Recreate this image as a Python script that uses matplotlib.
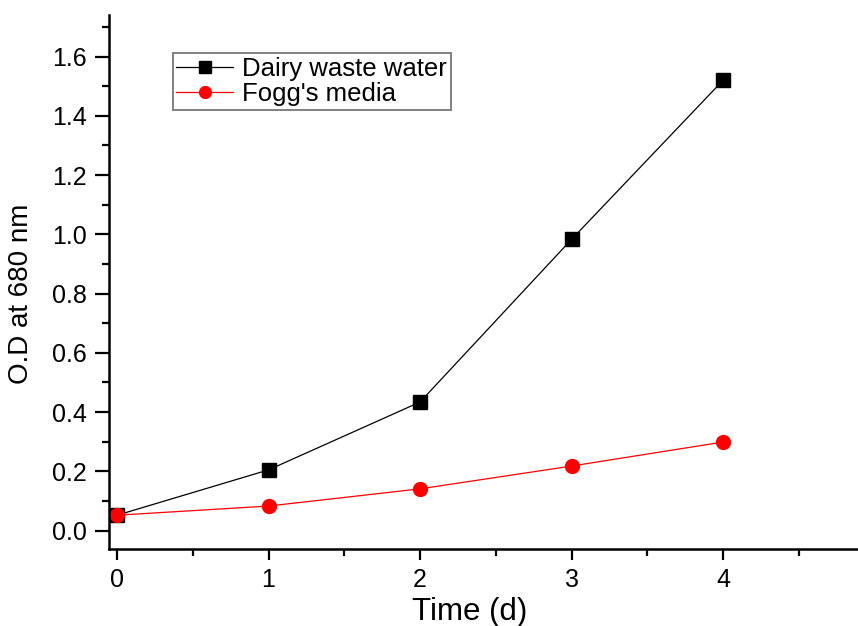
import matplotlib
matplotlib.use("Agg")
import matplotlib.pyplot as plt

plt.rcParams['font.family'] = ['Liberation Sans', 'DejaVu Sans']

days = [0, 1, 2, 3, 4]
dairy = [0.052, 0.205, 0.434, 0.983, 1.52]
fogg = [0.052, 0.083, 0.141, 0.218, 0.299]
labels = ["Dairy waste water", "Fogg's media"]


def graph_line():
    fig = plt.figure(figsize=(8.58, 6.26), dpi=100)
    ax = fig.add_axes([0.127, 0.123, 0.873, 0.853])

    ax.plot(days, dairy, color='black', lw=0.9, marker='s', markersize=9.5, label=labels[0])
    ax.plot(days, fogg, color='red', lw=0.9, marker='o', markersize=10, label=labels[1])

    ax.set_xlim(-0.053, 4.89)
    ax.set_ylim(-0.062, 1.74)
    ax.set_xticks([0, 1, 2, 3, 4])
    ax.set_xticks([0.5, 1.5, 2.5, 3.5, 4.5], minor=True)
    ax.set_yticks([0.0, 0.2, 0.4, 0.6, 0.8, 1.0, 1.2, 1.4, 1.6])
    ax.set_yticks([0.1, 0.3, 0.5, 0.7, 0.9, 1.1, 1.3, 1.5, 1.7], minor=True)
    ax.yaxis.set_major_formatter(matplotlib.ticker.FormatStrFormatter('%.1f'))

    for s in ['top', 'right']:
        ax.spines[s].set_visible(False)
    for s in ['left', 'bottom']:
        ax.spines[s].set_linewidth(1.8)

    ax.tick_params(which='major', direction='out', length=8, width=1.6, labelsize=18, pad=6)
    ax.tick_params(axis='y', which='major', length=10)
    ax.tick_params(which='minor', direction='out', length=5, width=1.6)

    ax.set_xlabel("Time (d)", fontsize=22.5)
    ax.set_ylabel("O.D at 680 nm", fontsize=20)
    ax.xaxis.set_label_coords(0.482, -0.09)
    ax.yaxis.set_label_coords(-0.1, 0.478)

    leg = ax.legend(loc='upper left', bbox_to_anchor=(0.085, 0.929), borderaxespad=0,
                    fontsize=18.5, fancybox=False, framealpha=1, edgecolor='gray',
                    handlelength=2.2, borderpad=0.15, labelspacing=0.05, handletextpad=0.35,
                    markerscale=0.85)
    leg.get_frame().set_linewidth(1.4)

    fig.savefig("out.png", dpi=100)


if __name__ == '__main__':
    graph_line()
